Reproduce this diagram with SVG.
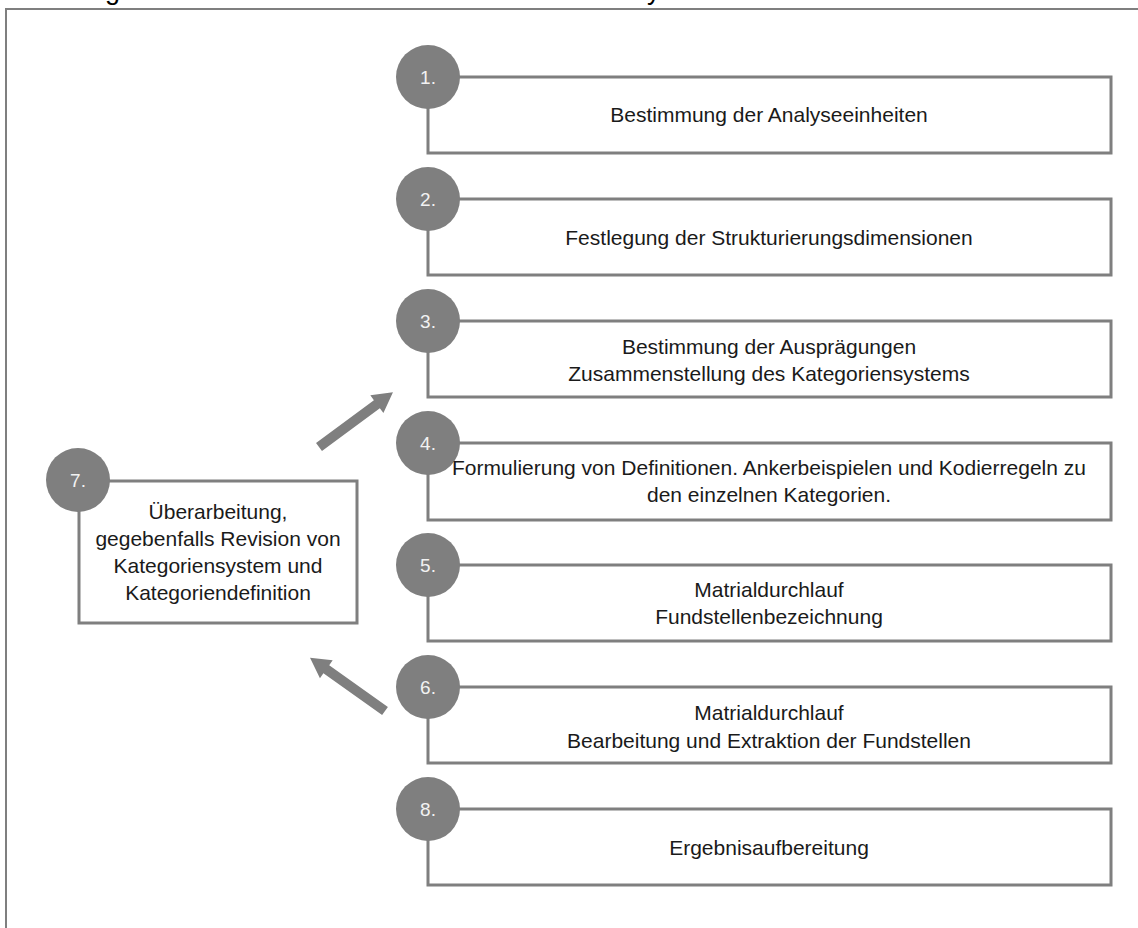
<svg xmlns="http://www.w3.org/2000/svg" xmlns:xlink="http://www.w3.org/1999/xlink" width="1138" height="928" viewBox="0 0 1138 928">
  <style>
    .box { fill: #ffffff; stroke: #7f7f7f; stroke-width: 3; }
    .dot { fill: #7f7f7f; }
    .num { font-family: "Liberation Sans", Arial, sans-serif; font-size: 19px; fill: #f2f2f2; text-anchor: middle; }
    .lbl { font-family: "Liberation Sans", Arial, sans-serif; font-size: 21px; fill: #1a1a1a; text-anchor: middle; }
    .cap { font-family: "Liberation Sans", Arial, sans-serif; font-size: 27px; fill: #000000; }
    .frame { fill: none; stroke: #7f7f7f; stroke-width: 2; }
    .arrow { fill: #7f7f7f; }
  </style>
  <defs>
    <!-- block arrow pointing along +x, tail at the origin -->
    <path id="blockArrow" d="M0,-5 H72 V-11 L92,0 L72,11 V5 H0 Z"/>
  </defs>

  <rect width="1138" height="928" fill="#ffffff"/>

  <!-- caption line, clipped by the top edge -->
  <text class="cap" x="0" y="-1.5">Abbildung 3: Ablaufmodell strukturierender Inhaltsanalyse</text>

  <!-- outer frame -->
  <path class="frame" d="M6,930 V9 H1140"/>

  <g id="connectors">
    <use xlink:href="#blockArrow" class="arrow" transform="translate(319,447) rotate(-36.5)"/>
    <use xlink:href="#blockArrow" class="arrow" transform="translate(385,711) rotate(-144.6)"/>
  </g>

  <g id="step1">
    <rect class="box" x="428" y="77" width="683" height="76"/>
    <circle class="dot" cx="428" cy="77" r="32"/>
    <text class="num" x="428" y="84">1.</text>
    <text class="lbl" x="769" y="122">Bestimmung der Analyseeinheiten</text>
  </g>

  <g id="step2">
    <rect class="box" x="428" y="199" width="683" height="76"/>
    <circle class="dot" cx="428" cy="199" r="32"/>
    <text class="num" x="428" y="206">2.</text>
    <text class="lbl" x="769" y="245">Festlegung der Strukturierungsdimensionen</text>
  </g>

  <g id="step3">
    <rect class="box" x="428" y="321" width="683" height="76"/>
    <circle class="dot" cx="428" cy="321" r="32"/>
    <text class="num" x="428" y="328">3.</text>
    <text class="lbl" x="769" y="354">Bestimmung der Ausprägungen</text>
    <text class="lbl" x="769" y="381">Zusammenstellung des Kategoriensystems</text>
  </g>

  <g id="step4">
    <rect class="box" x="428" y="443" width="683" height="77"/>
    <circle class="dot" cx="428" cy="443" r="32"/>
    <text class="num" x="428" y="450">4.</text>
    <text class="lbl" x="769" y="475">Formulierung von Definitionen. Ankerbeispielen und Kodierregeln zu</text>
    <text class="lbl" x="769" y="502">den einzelnen Kategorien.</text>
  </g>

  <g id="step5">
    <rect class="box" x="428" y="565" width="683" height="76"/>
    <circle class="dot" cx="428" cy="565" r="32"/>
    <text class="num" x="428" y="572">5.</text>
    <text class="lbl" x="769" y="597">Matrialdurchlauf</text>
    <text class="lbl" x="769" y="624">Fundstellenbezeichnung</text>
  </g>

  <g id="step6">
    <rect class="box" x="428" y="687" width="683" height="76"/>
    <circle class="dot" cx="428" cy="687" r="32"/>
    <text class="num" x="428" y="694">6.</text>
    <text class="lbl" x="769" y="720">Matrialdurchlauf</text>
    <text class="lbl" x="769" y="748">Bearbeitung und Extraktion der Fundstellen</text>
  </g>

  <g id="step8">
    <rect class="box" x="428" y="809" width="683" height="76"/>
    <circle class="dot" cx="428" cy="809" r="32"/>
    <text class="num" x="428" y="816">8.</text>
    <text class="lbl" x="769" y="855">Ergebnisaufbereitung</text>
  </g>

  <g id="step7">
    <rect class="box" x="79" y="481" width="278" height="142"/>
    <circle class="dot" cx="78" cy="480" r="32"/>
    <text class="num" x="78" y="487">7.</text>
    <text class="lbl" x="218" y="519">Überarbeitung,</text>
    <text class="lbl" x="218" y="546">gegebenfalls Revision von</text>
    <text class="lbl" x="218" y="573">Kategoriensystem und</text>
    <text class="lbl" x="218" y="600">Kategoriendefinition</text>
  </g>
</svg>
